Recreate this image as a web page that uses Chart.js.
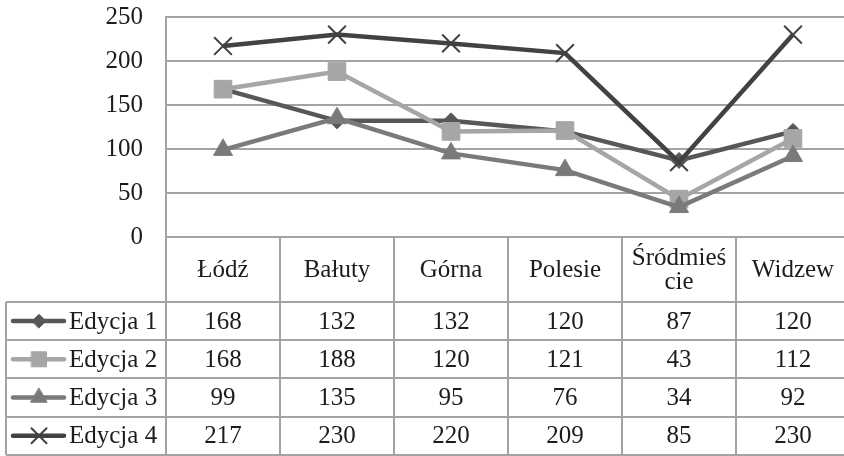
<!DOCTYPE html>
<html>
<head>
<meta charset="utf-8">
<script src="https://cdn.jsdelivr.net/npm/chart.js@4.4.1/dist/chart.umd.min.js"></script>
<style>
  html, body { margin: 0; padding: 0; background: #fff; overflow: hidden; width: 844px; height: 456px; }
  #wrap { position: relative; width: 844px; height: 456px; overflow: hidden; }
  canvas { display: block; }
</style>
</head>
<body>
<div id="wrap"><canvas id="c" width="850" height="456"></canvas></div>
<script>
// Districts of Łódź and the count per edition
const categories = ['Łódź', 'Bałuty', 'Górna', 'Polesie', 'Śródmieś\ncie', 'Widzew'];
const seriesNames = ['Edycja 1', 'Edycja 2', 'Edycja 3', 'Edycja 4'];
const edycja1 = [168, 132, 132, 120, 87, 120];
const edycja2 = [168, 188, 120, 121, 43, 112];
const edycja3 = [99, 135, 95, 76, 34, 92];
const edycja4 = [217, 230, 220, 209, 85, 230];
const yTicks = [0, 50, 100, 150, 200, 250];

const values = [edycja1, edycja2, edycja3, edycja4];
const colors = ['#575757', '#a6a6a6', '#7a7a7a', '#424242'];
const styles = [
  { pointStyle: 'rectRot', pointRadius: 8, pointBorderWidth: 1 },
  { pointStyle: 'rect', pointRadius: 12.5, pointBorderWidth: 1 },
  { pointStyle: 'triangle', pointRadius: 11, pointBorderWidth: 1 },
  { pointStyle: 'crossRot', pointRadius: 12.5, pointBorderWidth: 2 }
];

const GRID = '#a3a3a3';
const FAMILY = '"Liberation Serif", "Times New Roman", serif';
const FONT = '25px ' + FAMILY;
const TEXT = '#1c1c1c';

// target plot rectangle
const PLOT = { left: 166, top: 17, right: 850, bottom: 237 };

const datasets = seriesNames.map((name, i) => ({
  label: name,
  data: values[i],
  borderColor: colors[i],
  backgroundColor: colors[i],
  pointBackgroundColor: colors[i],
  pointBorderColor: colors[i],
  borderWidth: 4.5,
  tension: 0,
  order: 4 - i,
  ...styles[i]
}));

// Data table drawn below the plot, aligned to the category scale
const tablePlugin = {
  id: 'dataTable',
  afterDraw(chart) {
    const ctx = chart.ctx;
    const x = chart.scales.x;
    const area = chart.chartArea;
    const step = x.getPixelForValue(1) - x.getPixelForValue(0);
    const left0 = 6;
    const top = area.bottom;            // header row starts at the zero line
    const headerBottom = 302;
    const rowH = 38.2;
    const bottom = headerBottom + rowH * seriesNames.length;

    ctx.save();
    ctx.strokeStyle = GRID;
    ctx.lineWidth = 2;

    // horizontal rules
    ctx.beginPath();
    ctx.moveTo(area.left, top); ctx.lineTo(chart.width, top);
    for (let r = 0; r <= seriesNames.length; r++) {
      const y = Math.round(headerBottom + rowH * r);
      ctx.moveTo(left0, y); ctx.lineTo(chart.width, y);
    }
    // vertical rules
    ctx.moveTo(left0, headerBottom); ctx.lineTo(left0, bottom);
    ctx.moveTo(area.left, area.top); ctx.lineTo(area.left, bottom);
    for (let i = 1; i <= categories.length; i++) {
      const bx = Math.round(x.getPixelForValue(i) - step / 2);
      ctx.moveTo(bx, top); ctx.lineTo(bx, bottom);
    }
    ctx.stroke();

    ctx.font = FONT;
    ctx.fillStyle = TEXT;
    ctx.textAlign = 'center';
    ctx.textBaseline = 'middle';

    // header: category names
    categories.forEach((c, i) => {
      const cx = x.getPixelForValue(i);
      const lines = c.split('\n');
      const lh = 24;
      const mid = (top + headerBottom) / 2 + 1;
      lines.forEach((ln, k) => {
        ctx.fillText(ln, cx, mid + (k - (lines.length - 1) / 2) * lh);
      });
    });

    // body rows with legend keys
    seriesNames.forEach((name, r) => {
      const yc = headerBottom + rowH * r + rowH / 2 + 1;
      values[r].forEach((v, i) => {
        ctx.fillText(String(v), x.getPixelForValue(i), yc);
      });
      // legend key line
      ctx.strokeStyle = colors[r];
      ctx.lineWidth = 4.5;
      ctx.lineCap = 'round';
      ctx.beginPath();
      ctx.moveTo(13, yc - 1); ctx.lineTo(64, yc - 1);
      ctx.stroke();
      const st = styles[r];
      ctx.fillStyle = colors[r];
      ctx.strokeStyle = colors[r];
      ctx.lineWidth = st.pointBorderWidth;
      Chart.helpers.drawPoint(ctx, {
        pointStyle: st.pointStyle,
        radius: st.pointRadius * 0.85,
        rotation: 0,
        borderWidth: st.pointBorderWidth
      }, 39, yc - 1);
      ctx.fillStyle = TEXT;
      ctx.textAlign = 'left';
      ctx.fillText(name, 69, yc);
      ctx.textAlign = 'center';
    });
    ctx.restore();
  }
};

// Pin the plot rectangle regardless of automatic label padding
const pinArea = {
  id: 'pinArea',
  afterLayout(chart) {
    const a = chart.chartArea;
    a.left = PLOT.left; a.top = PLOT.top; a.right = PLOT.right; a.bottom = PLOT.bottom;
    a.width = a.right - a.left; a.height = a.bottom - a.top;
    const x = chart.scales.x, y = chart.scales.y;
    x.left = PLOT.left; x.right = PLOT.right; x.width = PLOT.right - PLOT.left;
    y.top = PLOT.top; y.bottom = PLOT.bottom; y.height = PLOT.bottom - PLOT.top;
    y.left = 0; y.right = PLOT.left; y.width = PLOT.left;
    x.configure(); y.configure();
  }
};

new Chart(document.getElementById('c'), {
  type: 'line',
  data: { labels: categories, datasets },
  options: {
    responsive: false,
    animation: false,
    layout: { padding: { top: 17, bottom: 219, left: 0, right: 0 } },
    plugins: { legend: { display: false }, tooltip: { enabled: false } },
    scales: {
      x: {
        display: false,
        offset: true
      },
      y: {
        min: 0,
        max: 250,
        afterFit(scale) { scale.width = 166; },
        afterBuildTicks(scale) { scale.ticks = yTicks.map(v => ({ value: v })); },
        grid: { color: GRID, lineWidth: 2, drawTicks: false },
        border: { display: true, color: GRID, width: 2 },
        ticks: {
          padding: 23,
          color: TEXT,
          font: { family: FAMILY, size: 25 }
        }
      }
    }
  },
  plugins: [tablePlugin, pinArea]
});
</script>
</body>
</html>
